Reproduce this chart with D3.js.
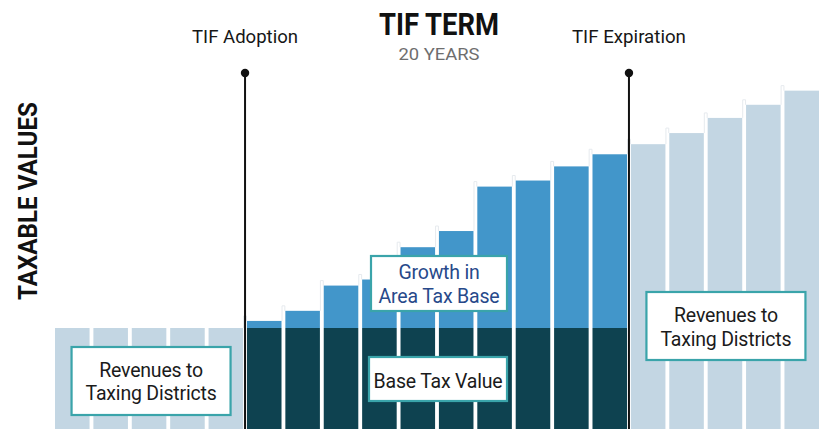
<!DOCTYPE html>
<html>
<head>
<meta charset="utf-8">
<script src="https://cdn.jsdelivr.net/npm/d3@7"></script>
<style>
  html, body { margin: 0; padding: 0; background: #fff; }
  svg { display: block; font-family: Roboto, "Open Sans", sans-serif; }
</style>
</head>
<body>
<div id="chart"></div>
<script>
// years of the TIF life cycle: 5 before adoption, 10 shown inside the term, 5 after expiration
const years = d3.range(1, 21);
const phase = ["pre","pre","pre","pre","pre",
               "tif","tif","tif","tif","tif","tif","tif","tif","tif","tif",
               "post","post","post","post","post"];
// taxable value of the area each year (base = 100)
const totalValue = [100, 100, 100, 100, 100,
                    107, 117, 142, 148, 180, 196, 240, 246, 260, 272,
                    282, 293, 308, 321, 335];
const baseValue = 100;
const adoptionYear = 6, expirationYear = 16;

const W = 828, H = 429;
const colors = { light: "#c3d6e3", growth: "#4296ca", base: "#0e4250", border: "#3aa4aa" };

const svg = d3.select("#chart").append("svg")
  .attr("width", W).attr("height", H).attr("viewBox", [0, 0, W, H]);

const x = d3.scaleBand().domain(years).range([55, 819]).paddingInner(0.1).paddingOuter(0);
const y = d3.scaleLinear().domain([0, 340]).range([H, H - 340 * 1.01]);
const bw = x.bandwidth(), gap = x.step() - bw;

const data = years.map((yr, i) => ({ yr, phase: phase[i], total: totalValue[i], prev: i ? totalValue[i - 1] : totalValue[i] }));

// little white stubs with faint grey edge on the left of each rising bar
svg.append("g").selectAll("path")
  .data(data.filter(d => d.total > d.prev))
  .join("path")
  .attr("d", d => {
    const x0 = x(d.yr) - gap + 0.5, x1 = x(d.yr) - 0.5, top = y(d.total) - 5;
    return `M${x0},${y(d.prev)}V${top}H${x1}V${y(d.total)}`;
  })
  .attr("fill", "none").attr("stroke", "#e6eaee").attr("stroke-width", 1);

// light bars outside the TIF term
svg.append("g").selectAll("rect")
  .data(data.filter(d => d.phase != "tif"))
  .join("rect")
  .attr("x", d => x(d.yr)).attr("width", bw)
  .attr("y", d => y(d.total)).attr("height", d => y(0) - y(d.total))
  .attr("fill", colors.light);

// growth (increment) part during the term
svg.append("g").selectAll("rect")
  .data(data.filter(d => d.phase == "tif"))
  .join("rect")
  .attr("x", d => x(d.yr)).attr("width", bw)
  .attr("y", d => y(d.total)).attr("height", d => y(baseValue) - y(d.total))
  .attr("fill", colors.growth);

// frozen base value during the term
svg.append("g").selectAll("rect")
  .data(data.filter(d => d.phase == "tif"))
  .join("rect")
  .attr("x", d => x(d.yr)).attr("width", bw)
  .attr("y", y(baseValue)).attr("height", y(0) - y(baseValue))
  .attr("fill", colors.base);

// adoption / expiration markers
const markers = [
  { yr: adoptionYear, label: "TIF Adoption" },
  { yr: expirationYear, label: "TIF Expiration" }
];
const mx = d => x(d.yr) - gap / 2;
const mk = svg.append("g").selectAll("g").data(markers).join("g");
mk.append("line")
  .attr("x1", mx).attr("x2", mx).attr("y1", 73).attr("y2", H)
  .attr("stroke", "#111").attr("stroke-width", 2);
mk.append("circle").attr("cx", mx).attr("cy", 73).attr("r", 4.2).attr("fill", "#111");
mk.append("text")
  .attr("x", mx).attr("y", 43).attr("text-anchor", "middle")
  .attr("font-size", 19).attr("fill", "#161616")
  .attr("textLength", (d, i) => i ? 114 : 106).attr("lengthAdjust", "spacingAndGlyphs")
  .text(d => d.label);

// title
const cx = (x(adoptionYear) + x(expirationYear - 1) + bw) / 2 + 2;
svg.append("text").attr("x", cx).attr("y", 35).attr("text-anchor", "middle")
  .attr("font-size", 31).attr("font-weight", 700).attr("fill", "#111")
  .attr("textLength", 120).attr("lengthAdjust", "spacingAndGlyphs")
  .text("TIF TERM");
svg.append("text").attr("x", cx).attr("y", 59.5).attr("text-anchor", "middle")
  .attr("font-size", 16.5).attr("font-weight", 400).attr("fill", "#6e6e6e")
  .attr("textLength", 81).attr("lengthAdjust", "spacingAndGlyphs")
  .text("20 YEARS");

// y axis title
svg.append("text")
  .attr("transform", "translate(37,201) rotate(-90)")
  .attr("text-anchor", "middle")
  .attr("font-size", 26).attr("font-weight", 700).attr("fill", "#111")
  .attr("textLength", 198).attr("lengthAdjust", "spacingAndGlyphs")
  .text("TAXABLE VALUES");

// annotation boxes
const groupCenter = (a, b) => (x(a) + x(b) + bw) / 2;
const boxes = [
  { cx: groupCenter(1, 5) + 2, y: 347, w: 159, h: 68, lines: ["Revenues to", "Taxing Districts"], base: [377, 400], color: "#1b1b1b" },
  { cx: groupCenter(16, 20) + 1, y: 292, w: 159, h: 68, lines: ["Revenues to", "Taxing Districts"], base: [322, 346], color: "#1b1b1b" },
  { cx: groupCenter(6, 15) + 2, y: 256, w: 136, h: 55, lines: ["Growth in", "Area Tax Base"], base: [279, 303], color: "#27498a" },
  { cx: groupCenter(6, 15) + 1, y: 357, w: 138, h: 44, lines: ["Base Tax Value"], base: [388], color: "#1b1b1b" }
];
const bx = svg.append("g").selectAll("g").data(boxes).join("g");
bx.append("rect")
  .attr("x", d => d.cx - d.w / 2).attr("y", d => d.y)
  .attr("width", d => d.w).attr("height", d => d.h)
  .attr("fill", "#fff").attr("stroke", colors.border).attr("stroke-width", 2.2);
bx.each(function(d) {
  d3.select(this).selectAll("text").data(d.lines).join("text")
    .attr("x", d.cx).attr("y", (t, i) => d.base[i])
    .attr("text-anchor", "middle").attr("font-size", 19.5)
    .attr("letter-spacing", -0.2).attr("fill", d.color)
    .text(t => t);
});
</script>
</body>
</html>
